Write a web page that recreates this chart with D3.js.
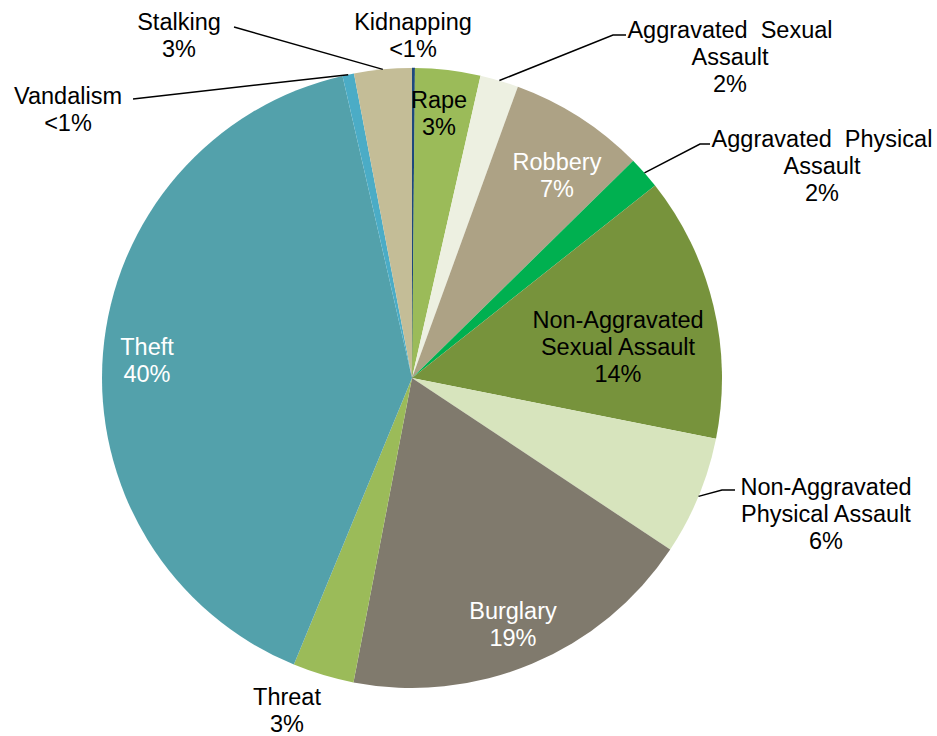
<!DOCTYPE html>
<html>
<head>
<meta charset="utf-8">
<script src="https://cdn.jsdelivr.net/npm/d3@7"></script>
<style>
  html, body { margin: 0; padding: 0; background: #fff; }
  svg { display: block; }
  text { font-family: "Liberation Sans", Arial, sans-serif; font-size: 23.5px; white-space: pre; }
</style>
</head>
<body>
<svg id="chart" width="937" height="736"></svg>
<script>
// ---- data (clockwise from 12 o'clock) ----
const categories = ["Kidnapping", "Rape", "Aggravated Sexual Assault", "Robbery",
  "Aggravated Physical Assault", "Non-Aggravated Sexual Assault", "Non-Aggravated Physical Assault",
  "Burglary", "Threat", "Theft", "Vandalism", "Stalking"];
const values = [0.15, 3.4, 2.0, 7.1, 1.7, 13.8, 6.2, 18.7, 3.2, 40.2, 0.6, 3.0];
const percentLabels = ["<1%", "3%", "2%", "7%", "2%", "14%", "6%", "19%", "3%", "40%", "<1%", "3%"];
const labelLines = [
  ["Kidnapping"], ["Rape"], ["Aggravated  Sexual", "Assault"], ["Robbery"],
  ["Aggravated  Physical", "Assault"], ["Non-Aggravated", "Sexual Assault"],
  ["Non-Aggravated", "Physical Assault"], ["Burglary"], ["Threat"], ["Theft"], ["Vandalism"], ["Stalking"]
];
const colors = ["#1F497D", "#9BBB59", "#EDF0E1", "#ADA285", "#00B050", "#77933C",
  "#D7E4BD", "#807A6D", "#9BBB59", "#53A1AB", "#4BACC6", "#C4BD97"];

// ---- layout ----
const cx = 412, cy = 378, R = 310;
const lineH = 27;
// label anchor (center of first line) and leader line elbow, per category
const labelLayout = {
  "Kidnapping": { x: 413, y: 22 },
  "Rape": { x: 439, y: 100, fill: "#000" },
  "Aggravated Sexual Assault": { x: 730, y: 30, leader: [[613, 35], [626, 35]] },
  "Robbery": { x: 557, y: 162, fill: "#fff" },
  "Aggravated Physical Assault": { x: 822, y: 139, leader: [[700, 144], [710, 144]] },
  "Non-Aggravated Sexual Assault": { x: 618, y: 320, fill: "#000" },
  "Non-Aggravated Physical Assault": { x: 826, y: 487, leader: [[722, 490], [735, 490]] },
  "Burglary": { x: 513, y: 611, fill: "#fff" },
  "Threat": { x: 287, y: 697 },
  "Theft": { x: 147, y: 347, fill: "#fff" },
  "Vandalism": { x: 68, y: 96, leader: [[133, 99]] },
  "Stalking": { x: 179, y: 22, leader: [[234, 27]] }
};

const svg = d3.select("#chart");
const g = svg.append("g").attr("transform", `translate(${cx},${cy})`);

const data = categories.map((c, i) => ({ name: c, value: values[i], color: colors[i], pct: percentLabels[i], lines: labelLines[i] }));
const pie = d3.pie().sort(null).value(d => d.value);
const arcs = pie(data);
const arc = d3.arc().innerRadius(0).outerRadius(R);

g.selectAll("path.slice").data(arcs).join("path")
  .attr("class", "slice")
  .attr("d", arc)
  .attr("fill", d => d.data.color)
  .attr("stroke", d => d.data.name === "Kidnapping" ? d.data.color : "none")
  .attr("stroke-width", 0.5);

// leader lines
arcs.forEach(a => {
  const L = labelLayout[a.data.name];
  if (!L.leader) return;
  const mid = (a.startAngle + a.endAngle) / 2;
  const p0 = [cx + Math.sin(mid) * R, cy - Math.cos(mid) * R];
  const pts = [p0].concat(L.leader);
  svg.append("path")
    .attr("d", d3.line()(pts))
    .attr("fill", "none")
    .attr("stroke", "#000")
    .attr("stroke-width", 1.5);
});

// labels
arcs.forEach(a => {
  const L = labelLayout[a.data.name];
  const lines = a.data.lines.concat([a.data.pct]);
  const t = svg.append("text")
    .attr("text-anchor", "middle")
    .attr("fill", L.fill || "#000");
  lines.forEach((ln, i) => {
    t.append("tspan")
      .attr("x", L.x)
      .attr("y", L.y + i * lineH + 8)
      .text(ln);
  });
});
</script>
</body>
</html>
